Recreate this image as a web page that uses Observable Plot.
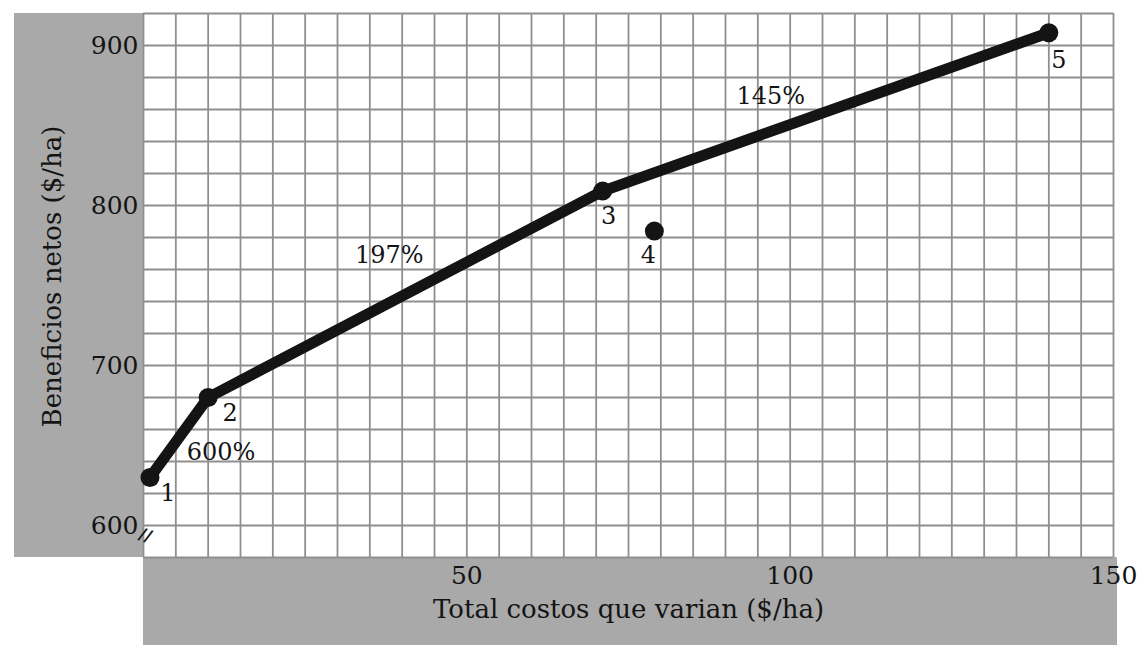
<!DOCTYPE html>
<html><head><meta charset="utf-8">
<script src="https://cdn.jsdelivr.net/npm/d3@7"></script>
<script src="https://cdn.jsdelivr.net/npm/@observablehq/plot@0.6"></script>
<style>
body{margin:0;background:#fff;}
#chart{width:1137px;height:645px;}
</style>
</head><body><div id="chart"></div>
<script>
// Data
const treatments   = ["1", "2", "3", "4", "5"];
const costs        = [1, 10, 71, 79, 140];      // Total costos que varian ($/ha)
const netBenefits  = [630, 680, 809, 784, 908]; // Beneficios netos ($/ha)
const frontier     = ["1", "2", "3", "5"];      // non-dominated treatments
const mrrLabels    = ["600%", "197%", "145%"];
const mrrCosts     = [12, 38, 97];
const mrrBenefits  = [646, 769, 868];
const xTicks       = [50, 100, 150];
const yTicks       = [600, 700, 800, 900];
const xDomain      = [0, 150];
const yDomain      = [580, 920];
const xGridStep    = 5;
const yGridStep    = 20;

const points = treatments.map((t, i) => ({t, x: costs[i], y: netBenefits[i]}));
const linePts = points.filter(p => frontier.includes(p.t));
const mrr = mrrLabels.map((l, i) => ({l, x: mrrCosts[i], y: mrrBenefits[i]}));
const xGrid = d3.range(xDomain[0], xDomain[1] + 0.001, xGridStep);
const yGrid = d3.range(yDomain[0], yDomain[1] + 0.001, yGridStep);

const labelOffsets = {"1": [18, 16], "2": [22, 16], "3": [6, 25], "4": [-6, 24], "5": [10, 28]};

const W = 1137, H = 645, mL = 143, mR = 24, mT = 13, mB = 88;
const font = "DejaVu Serif";
const gridColor = "#8f8f8f";
const ink = "#141414";

const plot = Plot.plot({
  width: W, height: H,
  marginLeft: mL, marginRight: mR, marginTop: mT, marginBottom: mB,
  style: {fontFamily: font, background: "transparent", color: ink},
  x: {domain: xDomain},
  y: {domain: yDomain},
  marks: [
    Plot.ruleX(xGrid, {stroke: gridColor, strokeWidth: 1.8}),
    Plot.ruleY(yGrid, {stroke: gridColor, strokeWidth: 1.8}),
    Plot.line(linePts, {x: "x", y: "y", stroke: ink, strokeWidth: 11, strokeLinejoin: "round", strokeLinecap: "round"}),
    Plot.dot(points, {x: "x", y: "y", r: 9.5, fill: ink}),
    ...points.map(p => Plot.text([p], {x: "x", y: "y", text: "t", dx: labelOffsets[p.t][0], dy: labelOffsets[p.t][1], fontSize: 24, fill: ink})),
    Plot.text(mrr, {x: "x", y: "y", text: "l", fontSize: 24, fill: ink}),
    Plot.axisX({ticks: xTicks, tickSize: 0, tickPadding: 9, fontSize: 25, label: null}),
    Plot.axisY({ticks: yTicks, tickSize: 0, tickPadding: 5, fontSize: 25, label: null}),
    Plot.text(["Total costos que varian ($/ha)"], {frameAnchor: "bottom", dy: 60, fontSize: 26, fill: ink}),
    Plot.text(["Beneficios netos ($/ha)"], {frameAnchor: "left", textAnchor: "middle", dx: -91, dy: -9, rotate: -90, fontSize: 26, fill: ink}),
    Plot.text(["//"], {frameAnchor: "bottom-left", textAnchor: "middle", dy: -17, dx: 0, fontSize: 17, fontWeight: "bold", fill: ink, rotate: 20})
  ]
});

// gray bands behind the axes
const svg = d3.select(plot);
const g = svg.insert("g", ":first-child");
g.append("rect").attr("x", 14).attr("y", mT).attr("width", mL - 14).attr("height", H - mT - mB).attr("fill", "#a9a9a9");
g.append("rect").attr("x", mL).attr("y", H - mB).attr("width", W - mL - mR + 4).attr("height", mB).attr("fill", "#a9a9a9");

document.getElementById("chart").appendChild(plot);
</script>
</body></html>
